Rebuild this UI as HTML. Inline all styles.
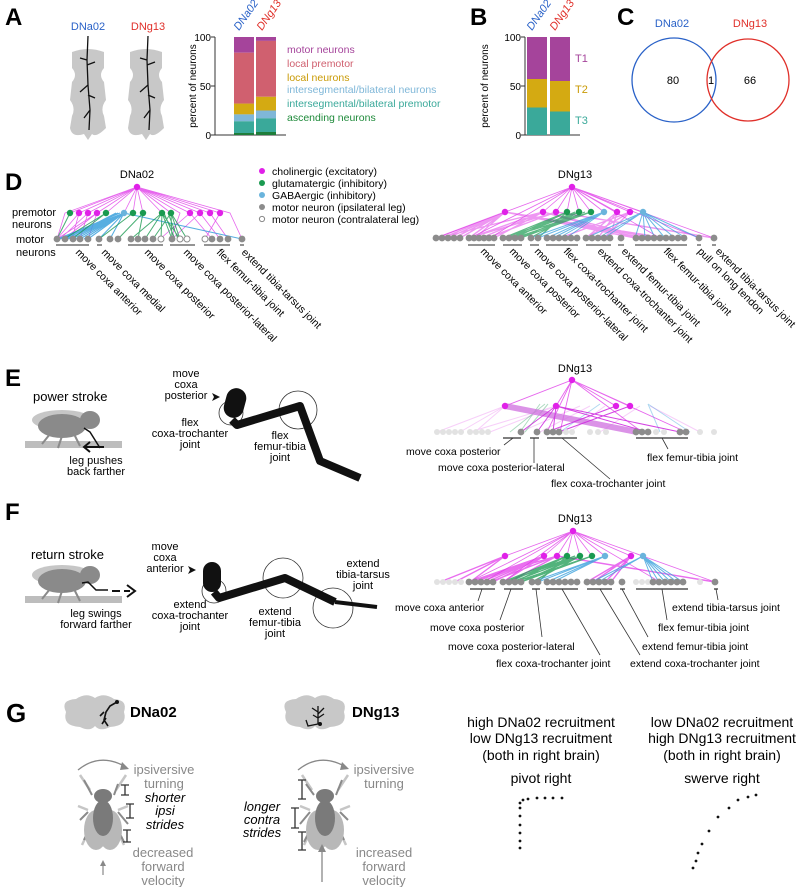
<!DOCTYPE html>
<html><head><meta charset="utf-8"><style>
html,body{margin:0;padding:0;background:#fff}
svg{display:block}
text{font-family:"Liberation Sans",sans-serif}
</style></head><body>
<svg width="800" height="887" viewBox="0 0 800 887" xmlns="http://www.w3.org/2000/svg">
<!-- ===== A ===== -->
<text x="5" y="25" font-size="24" font-weight="bold">A</text>
<text x="88" y="30" font-size="11" fill="#2a62c8" text-anchor="middle">DNa02</text>
<text x="148" y="30" font-size="11" fill="#e0302a" text-anchor="middle">DNg13</text>
<path d="M72,52 Q88,46 104,52 L104,68 Q98,75 104,82 L106,100 Q100,108 104,116 L106,128 Q96,138 92,134 L88,140 L84,134 Q72,138 70,128 L72,116 Q76,108 70,100 L72,82 Q78,75 72,68 Z" fill="#c8c8c8"/>
<path d="M130,52 Q146,46 162,52 L162,68 Q156,75 162,82 L164,100 Q158,108 162,116 L164,128 Q154,138 150,134 L146,140 L142,134 Q130,138 128,128 L130,116 Q134,108 128,100 L130,82 Q136,75 130,68 Z" fill="#c8c8c8"/>
<path d="M88,36 L87,60 L80,58 M87,60 L88,85 L80,92 M88,85 L90,110 L84,118 M90,110 L89,130 M87,65 L95,62 M88,95 L95,98" stroke="#111" stroke-width="1.3" fill="none"/>
<path d="M148,36 L147,60 L140,58 M147,60 L148,85 L140,92 M148,85 L150,110 L144,118 M150,110 L149,130 M147,65 L155,62 M148,95 L155,98" stroke="#111" stroke-width="1.3" fill="none"/>
<!-- bar chart A -->
<g font-size="10">
<text x="211" y="41" text-anchor="end">100</text>
<text x="211" y="90" text-anchor="end">50</text>
<text x="211" y="139" text-anchor="end">0</text>
</g>
<path d="M215,37 V135 H286 M211,37 H215 M211,86 H215 M211,135 H215" stroke="#333" stroke-width="1" fill="none"/>
<text transform="translate(196,86) rotate(-90)" font-size="10" text-anchor="middle">percent of neurons</text>
<text transform="translate(239,31) rotate(-55)" font-size="11" fill="#2a62c8" font-style="italic">DNa02</text>
<text transform="translate(262,31) rotate(-55)" font-size="11" fill="#e0302a" font-style="italic">DNg13</text>
<rect x="234" y="37" width="20" height="15.7" fill="#a5449b"/>
<rect x="234" y="52.7" width="20" height="51" fill="#d0606f"/>
<rect x="234" y="103.6" width="20" height="10.8" fill="#d4aa12"/>
<rect x="234" y="114.4" width="20" height="6.9" fill="#7fb7d8"/>
<rect x="234" y="121.3" width="20" height="11.8" fill="#3aa99a"/>
<rect x="234" y="133" width="20" height="2" fill="#1e7d3a"/>
<rect x="256" y="37" width="20" height="3.9" fill="#a5449b"/>
<rect x="256" y="40.9" width="20" height="55.9" fill="#d0606f"/>
<rect x="256" y="96.8" width="20" height="13.7" fill="#d4aa12"/>
<rect x="256" y="110.5" width="20" height="7.8" fill="#7fb7d8"/>
<rect x="256" y="118.3" width="20" height="13.7" fill="#3aa99a"/>
<rect x="256" y="132" width="20" height="3" fill="#1e7d3a"/>
<g font-size="10.5">
<text x="287" y="53" fill="#a5449b">motor neurons</text>
<text x="287" y="67" fill="#d0606f">local premotor</text>
<text x="287" y="81" fill="#c99a05">local neurons</text>
<text x="287" y="93" fill="#7fb7d8">intersegmental/bilateral neurons</text>
<text x="287" y="107" fill="#3aa99a">intersegmental/bilateral premotor</text>
<text x="287" y="121" fill="#1e8a3a">ascending neurons</text>
</g>
<!-- ===== B ===== -->
<text x="470" y="25" font-size="24" font-weight="bold">B</text>
<g font-size="10">
<text x="521" y="41" text-anchor="end">100</text>
<text x="521" y="90" text-anchor="end">50</text>
<text x="521" y="139" text-anchor="end">0</text>
</g>
<path d="M525,37 V135 H580 M521,37 H525 M521,86 H525 M521,135 H525" stroke="#333" stroke-width="1" fill="none"/>
<text transform="translate(488,86) rotate(-90)" font-size="10" text-anchor="middle">percent of neurons</text>
<text transform="translate(532,31) rotate(-55)" font-size="11" fill="#2a62c8" font-style="italic">DNa02</text>
<text transform="translate(555,31) rotate(-55)" font-size="11" fill="#e0302a" font-style="italic">DNg13</text>
<rect x="527" y="37" width="20" height="42" fill="#a5449b"/>
<rect x="527" y="79" width="20" height="28.5" fill="#d4aa12"/>
<rect x="527" y="107.5" width="20" height="27.5" fill="#3aa99a"/>
<rect x="550" y="37" width="20" height="44" fill="#a5449b"/>
<rect x="550" y="81" width="20" height="30.5" fill="#d4aa12"/>
<rect x="550" y="111.5" width="20" height="23.5" fill="#3aa99a"/>
<g font-size="11">
<text x="575" y="62" fill="#a5449b">T1</text>
<text x="575" y="93" fill="#c99a05">T2</text>
<text x="575" y="124" fill="#3aa99a">T3</text>
</g>
<!-- ===== C ===== -->
<text x="617" y="25" font-size="24" font-weight="bold">C</text>
<text x="672" y="27" font-size="11" fill="#2a62c8" text-anchor="middle">DNa02</text>
<text x="750" y="27" font-size="11" fill="#e0302a" text-anchor="middle">DNg13</text>
<circle cx="674" cy="80" r="42" fill="none" stroke="#2a62c8" stroke-width="1.3"/>
<circle cx="748" cy="80" r="41" fill="none" stroke="#e0302a" stroke-width="1.3"/>
<g font-size="11" text-anchor="middle">
<text x="673" y="84">80</text><text x="711" y="84">1</text><text x="750" y="84">66</text>
</g>
<!-- ===== D ===== -->
<text x="5" y="190" font-size="24" font-weight="bold">D</text>
<text x="137" y="178" font-size="11" text-anchor="middle">DNa02</text>
<text x="12" y="216" font-size="11">premotor</text>
<text x="12" y="228" font-size="11">neurons</text>
<text x="16" y="243" font-size="11">motor</text>
<text x="16" y="256" font-size="11">neurons</text>
<g font-size="10.5">
<circle cx="262" cy="171" r="3" fill="#e020e8"/><text x="272" y="175">cholinergic (excitatory)</text>
<circle cx="262" cy="183" r="3" fill="#1a9a50"/><text x="272" y="187">glutamatergic (inhibitory)</text>
<circle cx="262" cy="195" r="3" fill="#6ab4dc"/><text x="272" y="199">GABAergic (inhibitory)</text>
<circle cx="262" cy="207" r="3" fill="#8c8c8c"/><text x="272" y="211">motor neuron (ipsilateral leg)</text>
<circle cx="262" cy="219" r="2.6" fill="#fff" stroke="#888" stroke-width="1"/><text x="272" y="223">motor neuron (contralateral leg)</text>
</g>
<path d="M137,187 L70,213 M137,187 L79,213 M137,187 L88,213 M137,187 L97,213 M137,187 L106,213 M137,187 L124,213 M137,187 L133,213 M137,187 L143,213 M137,187 L162,213 M137,187 L171,213 M137,187 L190,213 M137,187 L200,213 M137,187 L210,213 M137,187 L220,213 M137,187 L65,213 L57,239 M137,187 L230,213 L242,239 M137,187 L57,239 M137,187 L180,213 L171,239 M79,213 L57,239 M88,213 L60,239 M97,213 L64,239 M79,213 L72,239 M88,213 L80,239 M97,213 L88,239 M190,213 L212,239 M200,213 L220,239 M210,213 L228,239 M220,213 L205,239 M190,213 L160,239 M200,213 L172,239" stroke="#e040e8" stroke-width="0.8" fill="none" opacity="0.8"/>
<path d="M124,213 L57,239 M124,213 L60,239 M124,213 L64,239 M124,213 L68,239 M124,213 L72,239 M124,213 L76,239 M124,213 L80,239 M124,213 L84,239 M124,213 L88,239 M124,213 L99,239 M124,213 L110,239 M120,213 L58,239 M118,213 L62,239 M116,213 L66,239 M124,213 L242,239" stroke="#3aa0dc" stroke-width="1.1" fill="none" opacity="0.85"/>
<path d="M70,213 L57,239 M106,213 L64,239 M106,213 L72,239 M133,213 L99,239 M143,213 L118,239 M162,213 L131,239 M162,213 L145,239 M162,213 L172,239 M162,213 L180,239 M171,213 L172,239 M171,213 L180,239 M171,213 L187,239 M164,213 L175,239 M168,213 L178,239 M171,213 L153,239 M162,213 L161,239 M143,213 L138,239" stroke="#1a9a50" stroke-width="1" fill="none" opacity="0.8"/>
<g fill="#e020e8"><circle cx="137" cy="187" r="3.2"/>
<circle cx="79" cy="213" r="3.2"/><circle cx="88" cy="213" r="3.2"/><circle cx="97" cy="213" r="3.2"/><circle cx="190" cy="213" r="3.2"/><circle cx="200" cy="213" r="3.2"/><circle cx="210" cy="213" r="3.2"/><circle cx="220" cy="213" r="3.2"/></g>
<g fill="#1a9a50"><circle cx="70" cy="213" r="3.2"/><circle cx="106" cy="213" r="3.2"/><circle cx="133" cy="213" r="3.2"/><circle cx="143" cy="213" r="3.2"/><circle cx="162" cy="213" r="3.2"/><circle cx="171" cy="213" r="3.2"/></g>
<circle cx="124" cy="213" r="3.2" fill="#6ab4dc"/>
<g fill="#8c8c8c"><circle cx="57" cy="239" r="3.4"/><circle cx="65" cy="239" r="3.4"/><circle cx="73" cy="239" r="3.4"/><circle cx="80" cy="239" r="3.4"/><circle cx="88" cy="239" r="3.4"/><circle cx="99" cy="239" r="3.4"/><circle cx="110" cy="239" r="3.4"/><circle cx="118" cy="239" r="3.4"/><circle cx="131" cy="239" r="3.4"/><circle cx="138" cy="239" r="3.4"/><circle cx="145" cy="239" r="3.4"/><circle cx="153" cy="239" r="3.4"/><circle cx="172" cy="239" r="3.4"/><circle cx="212" cy="239" r="3.4"/><circle cx="220" cy="239" r="3.4"/><circle cx="228" cy="239" r="3.4"/><circle cx="242" cy="239" r="3.4"/></g>
<g fill="#fff" stroke="#8c8c8c" stroke-width="1"><circle cx="161" cy="239" r="3"/><circle cx="180" cy="239" r="3"/><circle cx="187" cy="239" r="3"/><circle cx="205" cy="239" r="3"/></g>
<path d="M56,245 H89 M97,245 H102 M128,245 H163 M170,245 H195 M204,245 H230 M240,245 H244" stroke="#555" stroke-width="1.3"/>
<g font-size="10.5">
<text transform="translate(75,253) rotate(45)">move coxa anterior</text>
<text transform="translate(101,253) rotate(45)">move coxa medial</text>
<text transform="translate(144,253) rotate(45)">move coxa posterior</text>
<text transform="translate(183,253) rotate(45)">move coxa posterior-lateral</text>
<text transform="translate(216,253) rotate(45)">flex femur-tibia joint</text>
<text transform="translate(241,253) rotate(45)">extend tibia-tarsus joint</text>
</g>
<!-- DNg13 network D -->
<text x="575" y="178" font-size="11" text-anchor="middle">DNg13</text>
<path d="M572,187 L505,212 M572,187 L543,212 M572,187 L556,212 M572,187 L567,212 M572,187 L579,212 M572,187 L591,212 M572,187 L604,212 M572,187 L617,212 M572,187 L630,212 M572,187 L643,212 M572,187 L436,238 M572,187 L470,238 M572,187 L699,238 M572,187 L714,238 M572,187 L490,238 M572,187 L660,238" stroke="#e040e8" stroke-width="0.8" fill="none" opacity="0.8"/>
<path d="M505,212 L436,238 M505,212 L442,238 M505,212 L448,238 M505,212 L454,238 M505,212 L460,238 M505,212 L469,238 M505,212 L475,238 M505,212 L635,238 M505,212 L645,238 M505,212 L655,238 M505,212 L665,238 M543,212 L469,238 M543,212 L481,238 M543,212 L494,238 M543,212 L438,238 M556,212 L469,238 M556,212 L487,238 M556,212 L714,238 M617,212 L586,238 M617,212 L598,238 M617,212 L610,238 M630,212 L586,238 M630,212 L604,238 M630,212 L560,238 M543,212 L636,238 M543,212 L650,238" stroke="#e040e8" stroke-width="1.4" fill="none" opacity="0.55"/>
<path d="M567,212 L503,238 M567,212 L509,238 M567,212 L515,238 M579,212 L503,238 M579,212 L509,238 M579,212 L521,238 M591,212 L515,238 M591,212 L521,238 M579,212 L530,238 M567,212 L538,238 M591,212 L506,238 M575,212 L512,238 M585,212 L518,238" stroke="#1a9a50" stroke-width="1.2" fill="none" opacity="0.7"/>
<path d="M604,212 L530,238 M604,212 L538,238 M604,212 L547,238 M604,212 L553,238 M604,212 L559,238 M604,212 L566,238 M643,212 L586,238 M643,212 L598,238 M643,212 L635,238 M643,212 L645,238 M643,212 L655,238 M643,212 L665,238 M643,212 L675,238 M643,212 L686,238 M643,212 L699,238 M643,212 L604,238" stroke="#3aa0dc" stroke-width="1" fill="none" opacity="0.75"/>
<g fill="#e020e8"><circle cx="572" cy="187" r="3.2"/><circle cx="505" cy="212" r="3.2"/><circle cx="543" cy="212" r="3.2"/><circle cx="556" cy="212" r="3.2"/><circle cx="617" cy="212" r="3.2"/><circle cx="630" cy="212" r="3.2"/></g>
<g fill="#1a9a50"><circle cx="567" cy="212" r="3.2"/><circle cx="579" cy="212" r="3.2"/><circle cx="591" cy="212" r="3.2"/></g>
<g fill="#6ab4dc"><circle cx="604" cy="212" r="3.2"/><circle cx="643" cy="212" r="3.2"/></g>
<g fill="#8c8c8c">
<circle cx="436" cy="238" r="3.4"/><circle cx="442" cy="238" r="3.4"/><circle cx="448" cy="238" r="3.4"/><circle cx="454" cy="238" r="3.4"/><circle cx="460" cy="238" r="3.4"/>
<circle cx="469" cy="238" r="3.4"/><circle cx="474" cy="238" r="3.4"/><circle cx="479" cy="238" r="3.4"/><circle cx="484" cy="238" r="3.4"/><circle cx="489" cy="238" r="3.4"/><circle cx="494" cy="238" r="3.4"/>
<circle cx="503" cy="238" r="3.4"/><circle cx="509" cy="238" r="3.4"/><circle cx="515" cy="238" r="3.4"/><circle cx="521" cy="238" r="3.4"/>
<circle cx="531" cy="238" r="3.4"/><circle cx="538" cy="238" r="3.4"/>
<circle cx="547" cy="238" r="3.4"/><circle cx="553" cy="238" r="3.4"/><circle cx="559" cy="238" r="3.4"/><circle cx="565" cy="238" r="3.4"/><circle cx="571" cy="238" r="3.4"/><circle cx="577" cy="238" r="3.4"/>
<circle cx="586" cy="238" r="3.4"/><circle cx="592" cy="238" r="3.4"/><circle cx="598" cy="238" r="3.4"/><circle cx="604" cy="238" r="3.4"/><circle cx="610" cy="238" r="3.4"/>
<circle cx="621" cy="238" r="3.4"/>
<circle cx="636" cy="238" r="3.4"/><circle cx="642" cy="238" r="3.4"/><circle cx="648" cy="238" r="3.4"/><circle cx="654" cy="238" r="3.4"/><circle cx="660" cy="238" r="3.4"/><circle cx="666" cy="238" r="3.4"/><circle cx="672" cy="238" r="3.4"/><circle cx="678" cy="238" r="3.4"/><circle cx="684" cy="238" r="3.4"/>
<circle cx="699" cy="238" r="3.4"/><circle cx="714" cy="238" r="3.4"/></g>
<path d="M468,245 H495 M503,245 H522 M530,245 H539 M546,245 H578 M586,245 H611 M618,245 H624 M635,245 H687 M697,245 H701 M712,245 H716" stroke="#555" stroke-width="1.3"/>
<g font-size="10.5">
<text transform="translate(480,252) rotate(45)">move coxa anterior</text>
<text transform="translate(509,252) rotate(45)">move coxa posterior</text>
<text transform="translate(534,252) rotate(45)">move coxa posterior-lateral</text>
<text transform="translate(563,252) rotate(45)">flex coxa-trochanter joint</text>
<text transform="translate(597,252) rotate(45)">extend coxa-trochanter joint</text>
<text transform="translate(621,252) rotate(45)">extend femur-tibia joint</text>
<text transform="translate(663,252) rotate(45)">flex femur-tibia joint</text>
<text transform="translate(697,252) rotate(45)">pull on long tendon</text>
<text transform="translate(715,252) rotate(45)">extend tibia-tarsus joint</text>
</g>
<!-- ===== E ===== -->
<text x="5" y="386" font-size="24" font-weight="bold">E</text>
<text x="33" y="401" font-size="13">power stroke</text>
<rect x="25" y="441" width="97" height="7" fill="#bdbdbd"/>
<ellipse cx="62" cy="420" rx="30" ry="10" fill="#b8b8b8" opacity="0.8"/>
<ellipse cx="62" cy="426" rx="24" ry="12" fill="#8a8a8a"/>
<ellipse cx="90" cy="420" rx="10" ry="9" fill="#8a8a8a"/>
<path d="M50,434 L42,444 M62,436 L58,448 M74,434 L80,446" stroke="#8a8a8a" stroke-width="2"/>
<path d="M84,428 L90,432 L100,448" stroke="#111" stroke-width="1.5" fill="none"/>
<path d="M104,447 H84 M90,442 L84,447 L90,452" stroke="#111" stroke-width="2" fill="none"/>
<text x="96" y="464" font-size="11" text-anchor="middle">leg pushes</text>
<text x="96" y="475" font-size="11" text-anchor="middle">back farther</text>
<g font-size="11" text-anchor="middle">
<text x="186" y="377">move</text><text x="186" y="388">coxa</text><text x="186" y="399">posterior</text>
<text x="190" y="426">flex</text><text x="190" y="437">coxa-trochanter</text><text x="190" y="448">joint</text>
<text x="280" y="439">flex</text><text x="280" y="450">femur-tibia</text><text x="280" y="461">joint</text>
</g>
<path d="M212,393 L220,397 L212,401 L214,397 Z" fill="#111"/>
<circle cx="231" cy="413" r="12" fill="none" stroke="#333" stroke-width="0.8"/>
<circle cx="298" cy="410" r="19" fill="none" stroke="#333" stroke-width="0.8"/>
<rect x="225" y="388" width="20" height="30" rx="10" fill="#111" transform="rotate(15 235 403)"/>
<path d="M232,420 L237,425 L300,406 L320,461 L360,478" stroke="#111" stroke-width="8" fill="none" stroke-linejoin="round"/>
<path d="M320,461 L360,478" stroke="#111" stroke-width="4"/>
<text x="575" y="372" font-size="11" text-anchor="middle">DNg13</text>
<path d="M572,380 L505,406 M572,380 L556,406 M572,380 L616,406 M572,380 L630,406 M572,380 L547,432 M572,380 L560,432 M572,380 L686,432 M572,380 L642,432" stroke="#e040e8" stroke-width="0.9" fill="none" opacity="0.8"/>
<path d="M505,406 L437,432 M505,406 L460,432 M505,406 L475,432 M556,406 L490,432 M556,406 L470,432 M580,406 L520,432 M590,406 L540,432 M605,406 L570,432 M640,406 L600,432 M650,406 L700,432" stroke="#e040e8" stroke-width="1" fill="none" opacity="0.25"/>
<path d="M545,404 L510,432 M540,404 L520,432 M548,404 L525,432" stroke="#1a9a50" stroke-width="1" opacity="0.35"/>
<path d="M600,404 L560,432 M648,404 L660,432 M648,404 L690,432" stroke="#3aa0dc" stroke-width="1" opacity="0.4"/>
<path d="M505,406 L637,432" stroke="#d070e0" stroke-width="6" opacity="0.75"/>
<path d="M556,406 L521,432 M556,406 L537,432 M556,406 L553,432 M556,406 L648,432 M616,406 L547,432 M630,406 L559,432 M556,406 L680,432" stroke="#d030e0" stroke-width="1" opacity="0.9"/>
<g fill="#e020e8"><circle cx="572" cy="380" r="3.2"/><circle cx="505" cy="406" r="3.2"/><circle cx="556" cy="406" r="3.2"/><circle cx="616" cy="406" r="3.2"/><circle cx="630" cy="406" r="3.2"/></g>
<g fill="#e2e2e2"><circle cx="437" cy="432" r="3"/><circle cx="443" cy="432" r="3"/><circle cx="449" cy="432" r="3"/><circle cx="455" cy="432" r="3"/><circle cx="461" cy="432" r="3"/><circle cx="470" cy="432" r="3"/><circle cx="476" cy="432" r="3"/><circle cx="482" cy="432" r="3"/><circle cx="488" cy="432" r="3"/><circle cx="566" cy="432" r="3"/><circle cx="572" cy="432" r="3"/><circle cx="590" cy="432" r="3"/><circle cx="598" cy="432" r="3"/><circle cx="606" cy="432" r="3"/><circle cx="656" cy="432" r="3"/><circle cx="664" cy="432" r="3"/><circle cx="700" cy="432" r="3"/><circle cx="714" cy="432" r="3"/></g>
<g fill="#8c8c8c"><circle cx="521" cy="432" r="3.4"/><circle cx="537" cy="432" r="3.4"/><circle cx="547" cy="432" r="3.4"/><circle cx="553" cy="432" r="3.4"/><circle cx="559" cy="432" r="3.4"/><circle cx="636" cy="432" r="3.4"/><circle cx="642" cy="432" r="3.4"/><circle cx="648" cy="432" r="3.4"/><circle cx="680" cy="432" r="3.4"/><circle cx="686" cy="432" r="3.4"/></g>
<path d="M503,438 H521 M530,438 H539 M547,438 H577 M636,438 H688" stroke="#333" stroke-width="1.2"/>
<path d="M513,438 L504,445 M534,438 L534,463 M562,438 L610,479 M662,438 L668,449" stroke="#333" stroke-width="0.8"/>
<g font-size="10.5">
<text x="406" y="455">move coxa posterior</text>
<text x="438" y="471">move coxa posterior-lateral</text>
<text x="551" y="487">flex coxa-trochanter joint</text>
<text x="647" y="461">flex femur-tibia joint</text>
</g>
<!-- ===== F ===== -->
<text x="5" y="520" font-size="24" font-weight="bold">F</text>
<text x="31" y="559" font-size="13">return stroke</text>
<rect x="25" y="596" width="97" height="7" fill="#bdbdbd"/>
<ellipse cx="62" cy="575" rx="30" ry="10" fill="#b8b8b8" opacity="0.8"/>
<ellipse cx="62" cy="581" rx="24" ry="12" fill="#8a8a8a"/>
<ellipse cx="90" cy="575" rx="10" ry="9" fill="#8a8a8a"/>
<path d="M50,589 L42,599 M62,591 L58,603 M74,589 L80,601" stroke="#8a8a8a" stroke-width="2"/>
<path d="M82,583 L88,582 L96,590 L108,590" stroke="#111" stroke-width="1.5" fill="none"/>
<path d="M112,591 H120 M124,591 H130 M127,585 L135,591 L127,597" stroke="#111" stroke-width="2" fill="none"/>
<text x="96" y="617" font-size="11" text-anchor="middle">leg swings</text>
<text x="96" y="628" font-size="11" text-anchor="middle">forward farther</text>
<g font-size="11" text-anchor="middle">
<text x="165" y="550">move</text><text x="165" y="561">coxa</text><text x="165" y="572">anterior</text>
<text x="190" y="608">extend</text><text x="190" y="619">coxa-trochanter</text><text x="190" y="630">joint</text>
<text x="275" y="615">extend</text><text x="275" y="626">femur-tibia</text><text x="275" y="637">joint</text>
<text x="363" y="567">extend</text><text x="363" y="578">tibia-tarsus</text><text x="363" y="589">joint</text>
</g>
<path d="M188,566 L196,570 L188,574 L190,570 Z" fill="#111"/>
<circle cx="214" cy="591" r="12" fill="none" stroke="#333" stroke-width="0.8"/>
<circle cx="283" cy="578" r="20" fill="none" stroke="#333" stroke-width="0.8"/>
<circle cx="333" cy="608" r="20" fill="none" stroke="#333" stroke-width="0.8"/>
<rect x="203" y="562" width="18" height="30" rx="9" fill="#111"/>
<path d="M214,592 L219,598 L285,578 L335,602" stroke="#111" stroke-width="8" fill="none" stroke-linejoin="round"/>
<path d="M335,602 L377,607" stroke="#111" stroke-width="4"/>
<text x="575" y="522" font-size="11" text-anchor="middle">DNg13</text>
<path d="M573,531 L505,556 M573,531 L544,556 M573,531 L557,556 M573,531 L567,556 M573,531 L580,556 M573,531 L592,556 M573,531 L605,556 M573,531 L631,556 M573,531 L643,556 M573,531 L469,582 M573,531 L483,582 M573,531 L715,582 M573,531 L660,582 M573,531 L503,582" stroke="#e040e8" stroke-width="0.8" fill="none" opacity="0.8"/>
<path d="M505,556 L440,582 M505,556 L455,582 M505,556 L470,582 M544,556 L469,582 M544,556 L475,582 M544,556 L481,582 M544,556 L487,582 M544,556 L493,582 M557,556 L469,582 M557,556 L490,582 M557,556 L715,582 M631,556 L587,582 M631,556 L593,582 M631,556 L605,582 M631,556 L611,582 M544,556 L503,582 M557,556 L509,582" stroke="#e030e8" stroke-width="1.4" fill="none" opacity="0.7"/>
<path d="M567,556 L503,582 M567,556 L509,582 M567,556 L515,582 M580,556 L503,582 M580,556 L512,582 M580,556 L521,582 M592,556 L515,582 M592,556 L521,582 M580,556 L532,582 M567,556 L538,582 M575,556 L506,582" stroke="#1a9a50" stroke-width="1.3" fill="none" opacity="0.75"/>
<path d="M605,556 L532,582 M605,556 L538,582 M605,556 L547,582 M605,556 L553,582 M643,556 L592,582 M643,556 L598,582 M643,556 L653,582 M643,556 L659,582 M643,556 L665,582 M643,556 L671,582 M643,556 L677,582 M643,556 L683,582" stroke="#3aa0dc" stroke-width="1" fill="none" opacity="0.8"/>
<g fill="#e020e8"><circle cx="573" cy="531" r="3.2"/><circle cx="505" cy="556" r="3.2"/><circle cx="544" cy="556" r="3.2"/><circle cx="557" cy="556" r="3.2"/><circle cx="631" cy="556" r="3.2"/></g>
<g fill="#1a9a50"><circle cx="567" cy="556" r="3.2"/><circle cx="580" cy="556" r="3.2"/><circle cx="592" cy="556" r="3.2"/></g>
<g fill="#6ab4dc"><circle cx="605" cy="556" r="3.2"/><circle cx="643" cy="556" r="3.2"/></g>
<g fill="#e2e2e2"><circle cx="437" cy="582" r="3"/><circle cx="443" cy="582" r="3"/><circle cx="449" cy="582" r="3"/><circle cx="455" cy="582" r="3"/><circle cx="461" cy="582" r="3"/><circle cx="636" cy="582" r="3"/><circle cx="642" cy="582" r="3"/><circle cx="648" cy="582" r="3"/><circle cx="700" cy="582" r="3"/></g>
<g fill="#8c8c8c">
<circle cx="469" cy="582" r="3.4"/><circle cx="475" cy="582" r="3.4"/><circle cx="481" cy="582" r="3.4"/><circle cx="487" cy="582" r="3.4"/><circle cx="493" cy="582" r="3.4"/>
<circle cx="503" cy="582" r="3.4"/><circle cx="509" cy="582" r="3.4"/><circle cx="515" cy="582" r="3.4"/><circle cx="521" cy="582" r="3.4"/>
<circle cx="532" cy="582" r="3.4"/><circle cx="538" cy="582" r="3.4"/>
<circle cx="547" cy="582" r="3.4"/><circle cx="553" cy="582" r="3.4"/><circle cx="559" cy="582" r="3.4"/><circle cx="565" cy="582" r="3.4"/><circle cx="571" cy="582" r="3.4"/><circle cx="577" cy="582" r="3.4"/>
<circle cx="587" cy="582" r="3.4"/><circle cx="593" cy="582" r="3.4"/><circle cx="599" cy="582" r="3.4"/><circle cx="605" cy="582" r="3.4"/><circle cx="611" cy="582" r="3.4"/>
<circle cx="622" cy="582" r="3.4"/>
<circle cx="653" cy="582" r="3.4"/><circle cx="659" cy="582" r="3.4"/><circle cx="665" cy="582" r="3.4"/><circle cx="671" cy="582" r="3.4"/><circle cx="677" cy="582" r="3.4"/><circle cx="683" cy="582" r="3.4"/>
<circle cx="715" cy="582" r="3.4"/></g>
<path d="M470,589 H495 M504,589 H523 M532,589 H540 M546,589 H578 M587,589 H612 M620,589 H625 M636,589 H688 M714,589 H718" stroke="#333" stroke-width="1.2"/>
<path d="M482,589 L478,601 M511,589 L500,620 M536,589 L542,637 M562,589 L600,655 M600,589 L640,655 M622,589 L648,637 M662,589 L667,620 M716,589 L718,600" stroke="#333" stroke-width="0.8"/>
<g font-size="10.5">
<text x="395" y="611">move coxa anterior</text>
<text x="430" y="631">move coxa posterior</text>
<text x="448" y="650">move coxa posterior-lateral</text>
<text x="496" y="667">flex coxa-trochanter joint</text>
<text x="630" y="667">extend coxa-trochanter joint</text>
<text x="642" y="650">extend femur-tibia joint</text>
<text x="658" y="631">flex femur-tibia joint</text>
<text x="672" y="611">extend tibia-tarsus joint</text>
</g>
<!-- ===== G ===== -->
<text x="6" y="722" font-size="26" font-weight="bold">G</text>
<path d="M66,712 Q60,700 76,699 Q86,692 95,698 Q104,692 114,699 Q128,700 124,712 Q128,726 110,727 Q100,732 95,726 Q90,732 80,727 Q62,726 66,712 Z" fill="#c8c8c8"/>
<path d="M117,702 L110,706 L106,712 L104,720 L108,726 M104,712 L100,716 M106,718 L102,724" stroke="#111" stroke-width="1.6" fill="none"/>
<circle cx="117" cy="702" r="2" fill="#111"/>
<text x="130" y="717" font-size="15" font-weight="bold">DNa02</text>
<path d="M286,712 Q280,700 296,699 Q306,692 315,698 Q324,692 334,699 Q348,700 344,712 Q348,726 330,727 Q320,732 315,726 Q310,732 300,727 Q282,726 286,712 Z" fill="#c8c8c8"/>
<path d="M318,706 L318,724 L308,726 L306,720 M318,712 L312,708 M318,714 L324,708 M318,718 L313,715 M318,718 L324,714" stroke="#111" stroke-width="1.3" fill="none"/>
<circle cx="320" cy="724" r="2" fill="#111"/>
<text x="352" y="717" font-size="15" font-weight="bold">DNg13</text>
<path d="M78,770 Q100,752 126,767" stroke="#888" stroke-width="1.3" fill="none"/>
<path d="M122,762 L129,769 L120,770 Z" fill="#888"/>
<path d="M298,770 Q320,752 346,767" stroke="#888" stroke-width="1.3" fill="none"/>
<path d="M342,762 L349,769 L340,770 Z" fill="#888"/>
<g font-size="13" fill="#888" text-anchor="middle">
<text x="164" y="774">ipsiversive</text><text x="164" y="788">turning</text>
<text x="384" y="774">ipsiversive</text><text x="384" y="788">turning</text>
<text x="163" y="857">decreased</text><text x="163" y="871">forward</text><text x="163" y="885">velocity</text>
<text x="384" y="857">increased</text><text x="384" y="871">forward</text><text x="384" y="885">velocity</text>
</g>
<g font-size="13" font-style="italic" text-anchor="middle">
<text x="165" y="802">shorter</text><text x="165" y="815">ipsi</text><text x="165" y="829">strides</text>
<text x="262" y="811">longer</text><text x="262" y="824">contra</text><text x="262" y="837">strides</text>
</g>
<g>
<path d="M90,790 L80,775 M116,790 L126,775 M88,810 L78,806 M118,810 L128,806 M90,828 L82,845 M116,828 L124,845" stroke="#c6c6c6" stroke-width="2.5"/>
<path d="M92,795 L84,780 M114,795 L118,784 M88,812 L80,820 M118,812 L128,824 M90,826 L84,840 M116,826 L124,842" stroke="#8a8a8a" stroke-width="2"/>
<ellipse cx="96" cy="830" rx="12" ry="20" fill="#b8b8b8"/>
<ellipse cx="110" cy="830" rx="12" ry="20" fill="#b8b8b8"/>
<ellipse cx="103" cy="796" rx="9" ry="7" fill="#7a7a7a"/>
<ellipse cx="103" cy="818" rx="10" ry="18" fill="#7a7a7a"/>
</g>
<g>
<path d="M312,790 L302,775 M338,790 L348,775 M310,810 L300,806 M340,810 L350,806 M312,828 L304,845 M338,828 L346,845" stroke="#c6c6c6" stroke-width="2.5"/>
<path d="M314,795 L306,784 M336,795 L342,780 M310,812 L300,824 M340,812 L348,820 M312,826 L304,842 M338,826 L344,840" stroke="#8a8a8a" stroke-width="2"/>
<ellipse cx="318" cy="830" rx="12" ry="20" fill="#b8b8b8"/>
<ellipse cx="332" cy="830" rx="12" ry="20" fill="#b8b8b8"/>
<ellipse cx="325" cy="796" rx="9" ry="7" fill="#7a7a7a"/>
<ellipse cx="325" cy="818" rx="10" ry="18" fill="#7a7a7a"/>
</g>
<path d="M125,785 V795 M121,785 H129 M121,795 H129 M130,804 V818 M126,804 H134 M126,818 H134 M127,830 V842 M123,830 H131 M123,842 H131" stroke="#333" stroke-width="1.3"/>
<path d="M302,780 V799 M298,780 H306 M298,799 H306 M295,808 V828 M291,808 H299 M291,828 H299 M302,832 V850 M298,832 H306 M298,850 H306" stroke="#333" stroke-width="1.3"/>
<path d="M103,875 V864" stroke="#888" stroke-width="1.2"/><path d="M100,866 L103,860 L106,866 Z" fill="#888"/>
<path d="M322,882 V850" stroke="#888" stroke-width="1.3"/><path d="M318,852 L322,844 L326,852 Z" fill="#888"/>
<g font-size="14" text-anchor="middle">
<text x="541" y="727">high DNa02 recruitment</text>
<text x="541" y="743">low DNg13 recruitment</text>
<text x="541" y="760">(both in right brain)</text>
<text x="541" y="783">pivot right</text>
<text x="722" y="727">low DNa02 recruitment</text>
<text x="722" y="743">high DNg13 recruitment</text>
<text x="722" y="760">(both in right brain)</text>
<text x="722" y="783">swerve right</text>
</g>
<g fill="#111">
<circle cx="520" cy="803" r="1.4"/><circle cx="520" cy="808" r="1.4"/><circle cx="520" cy="816" r="1.4"/><circle cx="520" cy="825" r="1.4"/><circle cx="520" cy="833" r="1.4"/><circle cx="520" cy="841" r="1.4"/><circle cx="520" cy="848" r="1.4"/>
<circle cx="523" cy="800" r="1.4"/><circle cx="528" cy="799" r="1.4"/><circle cx="537" cy="798" r="1.4"/><circle cx="545" cy="798" r="1.4"/><circle cx="553" cy="798" r="1.4"/><circle cx="562" cy="798" r="1.4"/>
<circle cx="693" cy="868" r="1.4"/><circle cx="696" cy="861" r="1.4"/><circle cx="698" cy="853" r="1.4"/><circle cx="702" cy="844" r="1.4"/><circle cx="709" cy="831" r="1.4"/><circle cx="718" cy="817" r="1.4"/><circle cx="729" cy="808" r="1.4"/><circle cx="738" cy="800" r="1.4"/><circle cx="748" cy="797" r="1.4"/><circle cx="756" cy="795" r="1.4"/>
</g>
</svg>
</body></html>
